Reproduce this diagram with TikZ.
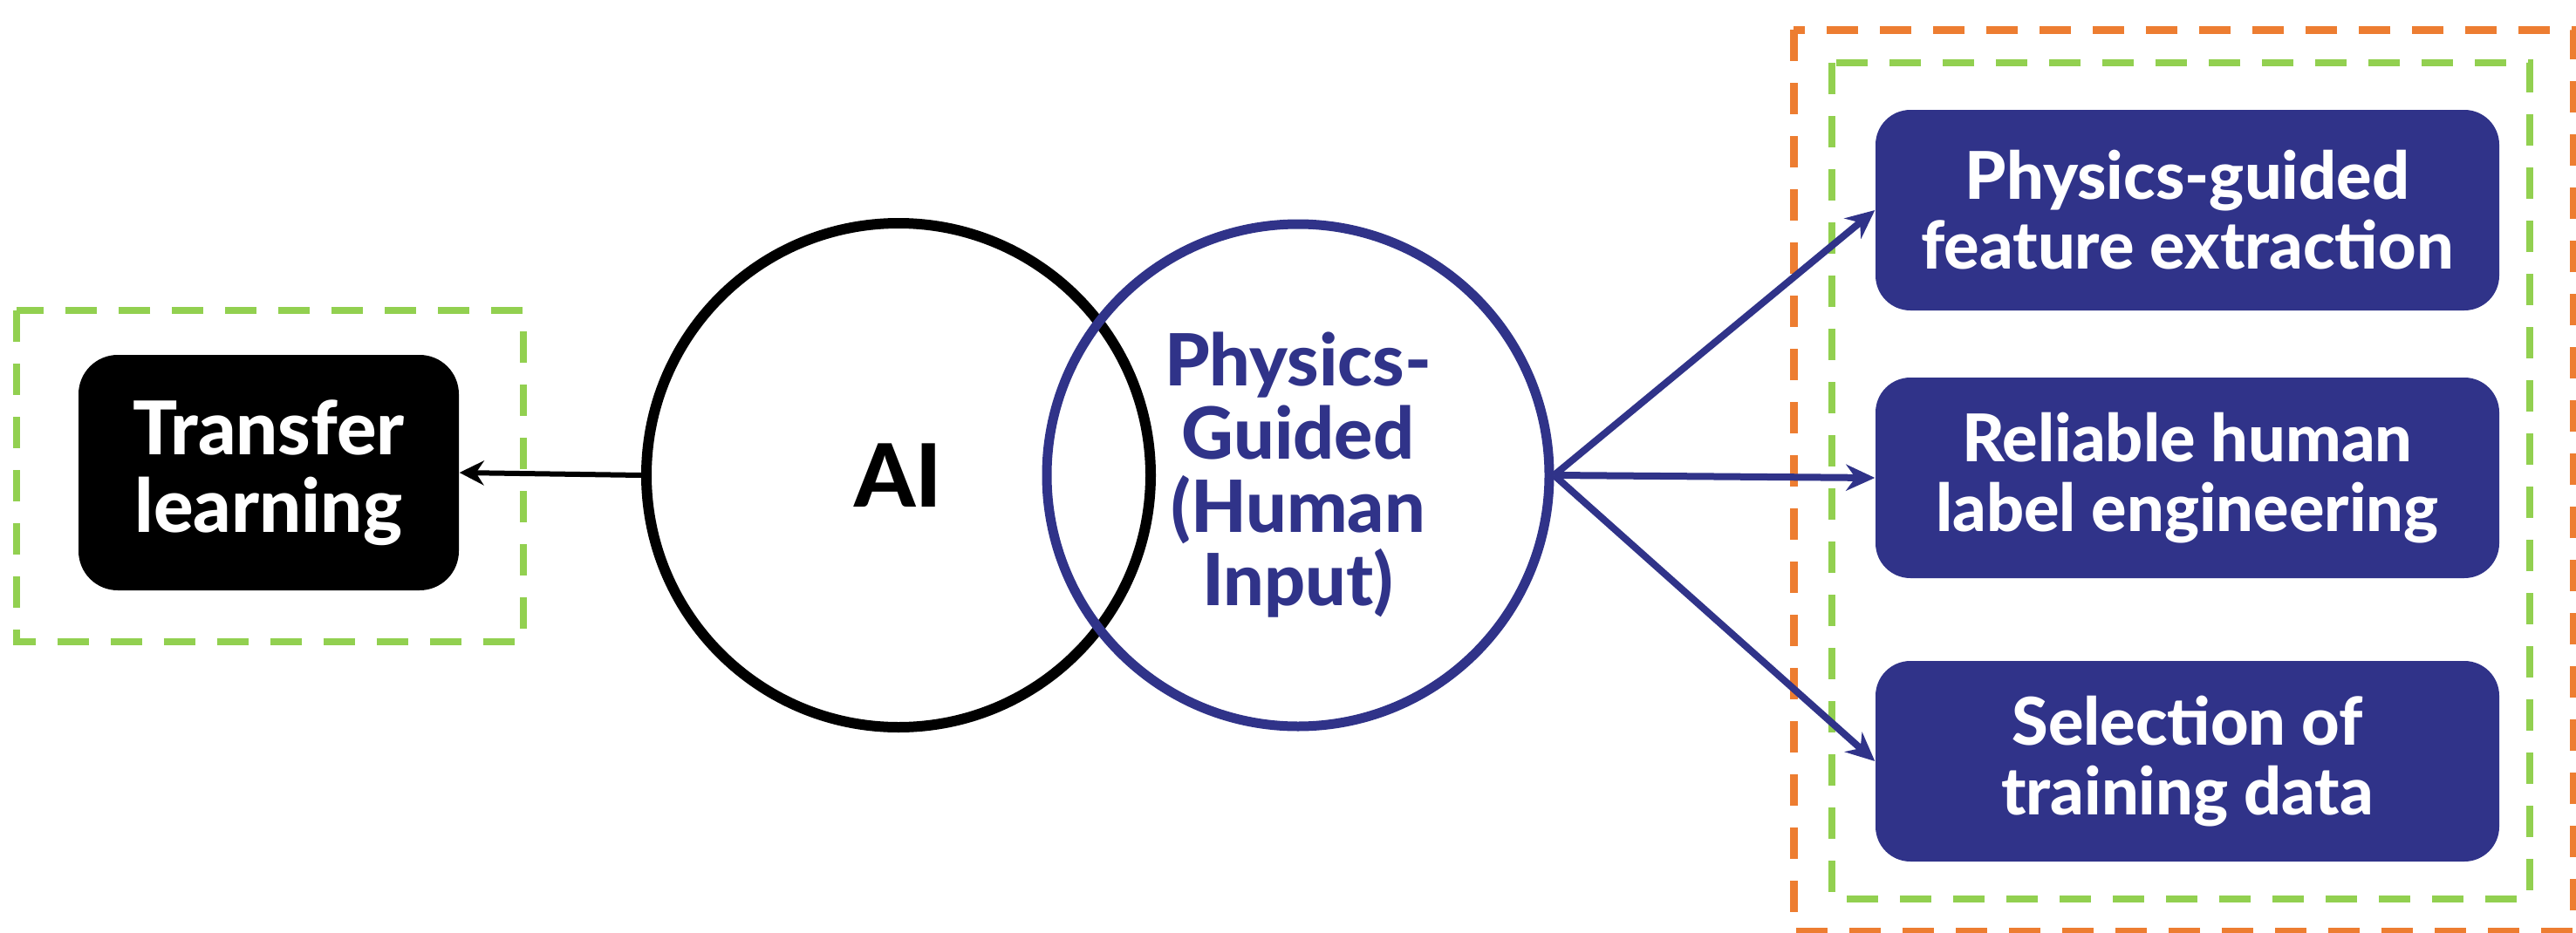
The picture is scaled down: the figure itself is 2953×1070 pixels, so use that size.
\documentclass[tikz,border=0pt]{standalone}
\usepackage{fontspec}
\setmainfont{Lato}[BoldFont={Lato Heavy}]
\usetikzlibrary{arrows.meta}
\definecolor{navy}{RGB}{48,51,137}
\definecolor{lgreen}{RGB}{146,208,80}
\definecolor{orng}{RGB}{237,125,49}
\begin{document}
\begin{tikzpicture}[x=0.1mm,y=-0.1mm,
  greendash/.style={draw=lgreen, line width=0.8mm, dash pattern=on 3.6mm off 2.5mm},
  orangedash/.style={draw=orng, line width=0.9mm, dash pattern=on 3.6mm off 2.5mm},
  navybox/.style={fill=navy, rounded corners=4mm, text=white, align=center,
    font=\bfseries\fontsize{21.5}{22.8}\selectfont,
    minimum width=71.5mm, minimum height=23mm, inner sep=0pt},
  blackbox/.style={fill=black, rounded corners=4.5mm, text=white, align=center,
    font=\bfseries\fontsize{24.2}{25.3}\selectfont,
    minimum width=43.6mm, minimum height=27mm, inner sep=0pt},
  aicircle/.style={circle, draw=black, line width=1.2mm, minimum size=57.8mm, inner sep=0pt,
    font=\bfseries\fontsize{28.5}{30}\selectfont},
  pgcircle/.style={circle, draw=navy, line width=1.1mm, minimum size=57.6mm, inner sep=0pt,
    text=navy, align=center, font=\bfseries\fontsize{23.5}{23.9}\selectfont},
  navyarrow/.style={draw=navy, line width=0.8mm, -{Stealth[length=3.3mm,width=3mm]}},
  blackarrow/.style={draw=black, line width=0.6mm, -{Stealth[length=2.8mm,width=2.8mm]}}
]
\useasboundingbox (0,0) rectangle (2953,1070);
\clip (0,0) rectangle (2953,1070);
\fill[white] (0,0) rectangle (2953,1070);

% dashed frames
\draw[greendash] (19,356) rectangle (600,736);
\draw[orangedash] (2056,34) rectangle (2950,1068);
\draw[greendash] (2100,72) rectangle (2900,1031);

% left box
\node[blackbox] (tl) at (308,542) {Transfer\\learning};

% circles
\node[aicircle] (ai) at (1030,545) {AI};
\node[pgcircle] (pg) at (1488,545) {Physics-\\Guided\\(Human\\Input)};

% right boxes
\node[navybox] (b1) at (2507.5,241) {Physics-guided\\feature extraction};
\node[navybox] (b2) at (2507.5,548) {Reliable human\\label engineering};
\node[navybox] (b3) at (2507.5,873) {Selection of\\training data};

% connectors
\draw[blackarrow] (ai.west) -- (tl.east);
\draw[navyarrow] (pg.east) -- (b1.west);
\draw[navyarrow] (pg.east) -- (b2.west);
\draw[navyarrow] (pg.east) -- (b3.west);
\end{tikzpicture}
\end{document}
